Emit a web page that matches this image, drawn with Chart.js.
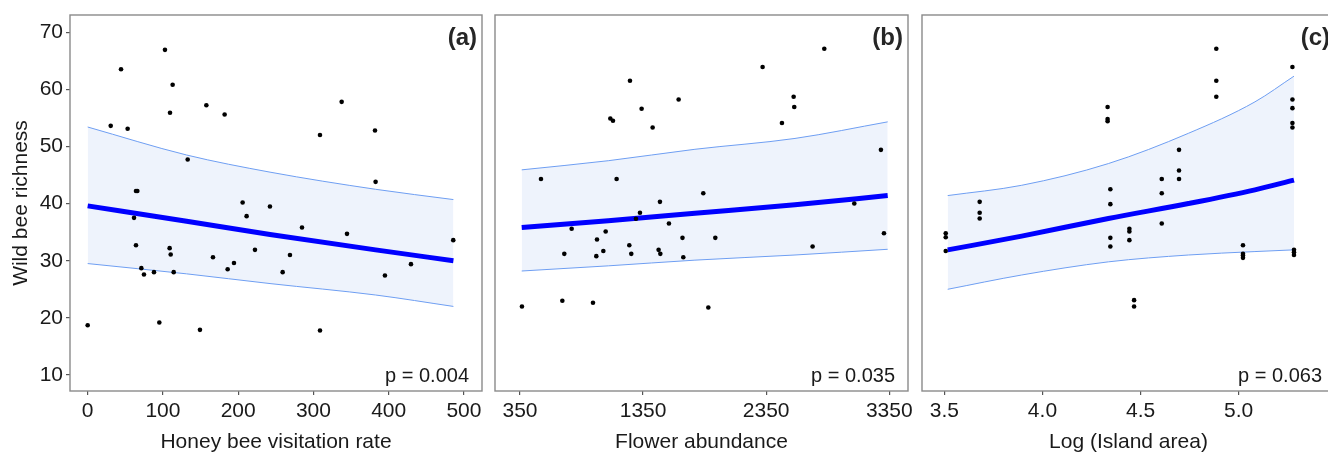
<!DOCTYPE html>
<html>
<head>
<meta charset="utf-8">
<script src="https://cdn.jsdelivr.net/npm/chart.js@4.4.1/dist/chart.umd.min.js"></script>
<style>
  html, body { margin: 0; padding: 0; background: #fff; overflow: hidden; width: 1328px; height: 452px; }
  canvas { position: absolute; top: 0; }
</style>
</head>
<body>
<canvas id="chartA" width="490" height="452" style="left:0px"></canvas>
<canvas id="chartB" width="430" height="452" style="left:488px"></canvas>
<canvas id="chartC" width="430" height="452" style="left:918px"></canvas>
<script>
// dati comuni
var yTicks = [10, 20, 30, 40, 50, 60, 70];
var yTitle = 'Wild bee richness';

// (a) honey bee visitation rate
var aX = [0, 30.6, 44.3, 53.1, 61.6, 64.2, 66.0, 64.2, 71.3, 74.8, 88.1, 95.2, 102.7, 109.4, 112.9, 108.9, 110.3, 114.3, 132.9, 149.2, 157.7, 166.5, 182.0, 186.0, 194.4, 205.9, 211.2, 222.3, 242.2, 259.1, 268.8, 284.8, 308.7, 308.7, 337.5, 344.6, 381.8, 382.6, 395.0, 429.6, 485.8];
var aY = [18.7, 53.6, 63.5, 53.1, 37.5, 42.2, 42.2, 32.7, 28.7, 27.6, 28.0, 19.2, 66.9, 55.9, 60.8, 32.2, 31.1, 28.0, 47.7, 17.9, 57.2, 30.6, 55.6, 28.5, 29.6, 40.2, 37.8, 31.9, 39.5, 28.0, 31.0, 35.8, 52.0, 17.8, 57.8, 34.7, 52.8, 43.8, 27.4, 29.4, 33.6];
var aCurveX = [0, 131.5, 242.3, 382.6, 486];
var aFit = [39.6, 36.9, 34.6, 31.9, 30.0];
var aUpper = [53.4, 48.5, 45.5, 42.5, 40.7];
var aLower = [29.5, 27.7, 26.0, 24.0, 22.0];
var aTicks = [0, 100, 200, 300, 400, 500];
var aTickLabels = ['0', '100', '200', '300', '400', '500'];

// (b) flower abundance
var bX = [366, 520.6, 694, 710, 769.7, 943, 970, 975.5, 1027, 1046, 1083.8, 1105.4, 1135, 1238, 1243.5, 1254, 1292, 1324.7, 1338, 1427.6, 1476, 1487, 1490, 1560, 1638.8, 1670, 1676.7, 1839, 1879.8, 1936.7, 2321, 2478, 2573, 2578, 2727, 2822, 3065.7, 3282, 3306.7];
var bY = [22.0, 44.3, 23.0, 31.2, 35.6, 22.65, 30.8, 33.7, 31.7, 35.1, 54.9, 54.5, 44.3, 32.7, 61.5, 31.2, 37.35, 38.4, 56.6, 53.3, 31.9, 40.3, 31.2, 36.5, 58.2, 34.0, 30.6, 41.8, 21.8, 34.0, 63.9, 54.1, 58.7, 56.9, 32.5, 67.1, 40.0, 49.4, 34.8];
var bCurveX = [364, 1067, 1771, 2584, 3337];
var bFit = [35.8, 37.0, 38.3, 39.8, 41.4];
var bUpper = [45.9, 47.5, 49.5, 51.4, 54.3];
var bLower = [28.2, 29.1, 30.1, 31.0, 32.0];
var bTicks = [350, 1350, 2350, 3350];
var bTickLabels = ['350', '1350', '2350', '3350'];

// (c) log island area
var cX = [3.507, 3.507, 3.507, 3.680, 3.680, 3.680, 4.332, 4.332, 4.332, 4.346, 4.346, 4.346, 4.346, 4.443, 4.443, 4.443, 4.467, 4.467, 4.608, 4.608, 4.608, 4.696, 4.696, 4.696, 4.886, 4.886, 4.886, 5.022, 5.022, 5.022, 5.022, 5.274, 5.274, 5.274, 5.274, 5.274, 5.282, 5.282, 5.282];
var cY = [34.8, 34.1, 31.7, 40.3, 38.4, 37.4, 56.9, 54.8, 54.4, 42.5, 39.9, 34.0, 32.5, 35.6, 35.1, 33.6, 23.1, 22.0, 44.3, 41.8, 36.5, 49.4, 45.8, 44.3, 67.1, 61.5, 58.7, 32.7, 31.2, 30.9, 30.5, 63.9, 58.2, 56.7, 54.1, 53.3, 31.9, 31.5, 31.0];
var cCurveX = [3.517, 3.894, 4.336, 4.744, 5.083, 5.282];
var cFit = [31.9, 34.3, 37.4, 40.0, 42.4, 44.1];
var cUpper = [41.4, 43.2, 47.0, 52.3, 57.8, 62.3];
var cLower = [25.0, 27.5, 29.8, 31.0, 31.6, 31.9];
var cTicks = [3.5, 4.0, 4.5, 5.0];
var cTickLabels = ['3.5', '4.0', '4.5', '5.0'];

var FONT = "'Liberation Sans', Arial, Helvetica, sans-serif";

Chart.defaults.font.family = FONT;
Chart.defaults.color = '#1a1a1a';

function toPoints(xs, ys) {
  var out = [];
  for (var i = 0; i < xs.length; i++) {
    out.push({x: xs[i], y: ys[i]});
  }
  return out;
}

//cornice grigia + etichette (a) e p
var panelPlugin = {
  id: 'panel',
  beforeDatasetsDraw: function (chart) {
    var ca = chart.chartArea;
    var ctx = chart.ctx;
    ctx.save();
    ctx.strokeStyle = '#8a8a8a';
    ctx.lineWidth = 1.4;
    ctx.strokeRect(ca.left, ca.top, ca.right - ca.left, ca.bottom - ca.top);
    ctx.restore();
  },
  afterDraw: function (chart, args, opts) {
    var ca = chart.chartArea;
    var ctx = chart.ctx;
    ctx.save();
    ctx.fillStyle = '#262626';
    ctx.textAlign = 'right';
    ctx.textBaseline = 'alphabetic';
    ctx.font = 'bold 24px ' + FONT;
    ctx.fillText(opts.tag, ca.right - 5, 45);
    ctx.fillStyle = '#1a1a1a';
    ctx.font = '20px ' + FONT;
    ctx.fillText(opts.pText, ca.right - 13, 382);
    ctx.restore();
  }
};

function makePanel(id, cfg) {
  var canvas = document.getElementById(id);

  var datasets = [
    {
      data: toPoints(cfg.xs, cfg.ys),
      showLine: false,
      pointRadius: 2.3,
      pointBackgroundColor: '#000',
      pointBorderWidth: 0,
      order: 0
    },
    {
      data: toPoints(cfg.curveX, cfg.fit),
      showLine: true,
      borderColor: '#0000ff',
      borderWidth: 5,
      pointRadius: 0,
      cubicInterpolationMode: 'monotone',
      fill: false,
      order: 1
    },
    {
      data: toPoints(cfg.curveX, cfg.upper),
      showLine: true,
      borderColor: '#6e9ef2',
      borderWidth: 1,
      pointRadius: 0,
      cubicInterpolationMode: 'monotone',
      backgroundColor: '#eef3fc',
      fill: '+1',
      order: 2
    },
    {
      data: toPoints(cfg.curveX, cfg.lower),
      showLine: true,
      borderColor: '#6e9ef2',
      borderWidth: 1,
      pointRadius: 0,
      cubicInterpolationMode: 'monotone',
      fill: false,
      order: 3
    }
  ];

  var ticksX = cfg.ticks;
  var labelsX = cfg.tickLabels;
  var yWidth = cfg.showY ? 70 : 0;

  var chart = new Chart(canvas, {
    type: 'scatter',
    data: { datasets: datasets },
    plugins: [panelPlugin],
    options: {
      responsive: false,
      animation: false,
      events: [],
      layout: { padding: { left: cfg.padLeft, right: cfg.padRight, top: 15, bottom: 0 } },
      plugins: {
        legend: { display: false },
        tooltip: { enabled: false },
        filler: { drawTime: 'beforeDatasetsDraw' },
        panel: { tag: cfg.tag, pText: cfg.pText }
      },
      scales: {
        x: {
          type: 'linear',
          min: cfg.xMin,
          max: cfg.xMax,
          afterBuildTicks: function (scale) {
            scale.ticks = ticksX.map(function (v) { return {value: v}; });
          },
          afterFit: function (scale) {
            scale.height = 61;
            scale.paddingLeft = 0;
            scale.paddingRight = 0;
          },
          border: { display: false },
          grid: { drawOnChartArea: false, drawTicks: true, tickLength: 4, tickColor: '#555', lineWidth: 1.2 },
          ticks: {
            padding: 4,
            maxRotation: 0,
            autoSkip: false,
            color: '#1a1a1a',
            font: { size: 21 },
            callback: function (value, index) { return labelsX[index]; }
          },
          title: {
            display: true,
            text: cfg.xTitle,
            color: '#1a1a1a',
            font: { size: 21, lineHeight: 1 },
            padding: { top: 0, bottom: -1 }
          }
        },
        y: {
          type: 'linear',
          display: cfg.showY,
          min: 7.2,
          max: 73,
          afterBuildTicks: function (scale) {
            scale.ticks = yTicks.map(function (v) { return {value: v}; });
          },
          afterFit: function (scale) {
            scale.width = yWidth;
            scale.paddingTop = 0;
            scale.paddingBottom = 0;
          },
          border: { display: false },
          grid: { drawOnChartArea: false, drawTicks: true, tickLength: 4, tickColor: '#555', lineWidth: 1.2 },
          ticks: {
            padding: 3,
            color: '#1a1a1a',
            font: { size: 21 }
          },
          title: {
            display: true,
            text: yTitle,
            color: '#1a1a1a',
            font: { size: 21 },
            padding: { top: 9, bottom: 0 }
          }
        }
      }
    }
  });
  return chart;
}

function init() {
  makePanel('chartA', {
    xs: aX, ys: aY, curveX: aCurveX, fit: aFit, upper: aUpper, lower: aLower,
    ticks: aTicks, tickLabels: aTickLabels, xMin: -23.5, xMax: 524,
    xTitle: 'Honey bee visitation rate', tag: '(a)', pText: 'p = 0.004',
    showY: true, padLeft: 0, padRight: 8
  });
  makePanel('chartB', {
    xs: bX, ys: bY, curveX: bCurveX, fit: bFit, upper: bUpper, lower: bLower,
    ticks: bTicks, tickLabels: bTickLabels, xMin: 147, xMax: 3502,
    xTitle: 'Flower abundance', tag: '(b)', pText: 'p = 0.035',
    showY: false, padLeft: 7, padRight: 10
  });
  makePanel('chartC', {
    xs: cX, ys: cY, curveX: cCurveX, fit: cFit, upper: cUpper, lower: cLower,
    ticks: cTicks, tickLabels: cTickLabels, xMin: 3.386, xMax: 5.491,
    xTitle: 'Log (Island area)', tag: '(c)', pText: 'p = 0.063',
    showY: false, padLeft: 4, padRight: 13
  });
}

init();
</script>
</body>
</html>
